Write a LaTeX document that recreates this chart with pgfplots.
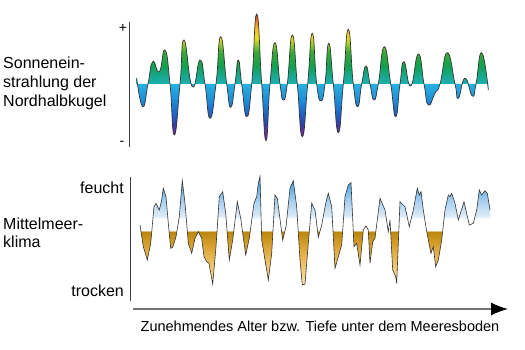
\documentclass[border=0pt]{standalone}
\usepackage{fontspec}
\setmainfont{Liberation Sans}
\usepackage{pgfplots}
\pgfplotsset{compat=1.18}
\usetikzlibrary{arrows.meta}

% insolation colours
\definecolor{nP4}{HTML}{8A2098}
\definecolor{nP3}{HTML}{6A2CA8}
\definecolor{nP2}{HTML}{3040A8}
\definecolor{nP1}{HTML}{1F68C8}
\definecolor{nM}{HTML}{1E90DA}
\definecolor{nZ}{HTML}{28B0E0}
\definecolor{pZ}{HTML}{20B0B0}
\definecolor{p1}{HTML}{18A890}
\definecolor{p2}{HTML}{12A050}
\definecolor{p3}{HTML}{3AA838}
\definecolor{p4}{HTML}{9CCB30}
\definecolor{p5}{HTML}{E8E020}
\definecolor{p6}{HTML}{F5C020}
\definecolor{p7}{HTML}{F07A20}
\definecolor{p8}{HTML}{E03020}
% climate colours
\definecolor{b4}{HTML}{FCE6B0}
\definecolor{b3}{HTML}{F8D690}
\definecolor{b2}{HTML}{EDBE5E}
\definecolor{b1}{HTML}{D9A232}
\definecolor{b0}{HTML}{B8860B}
\definecolor{u1}{HTML}{DCEBF7}
\definecolor{u2}{HTML}{A8CFEF}
\definecolor{u3}{HTML}{5CAEE6}
\definecolor{u4}{HTML}{2A94E0}
\definecolor{curve}{HTML}{333333}

\pgfdeclareverticalshading{insol}{100bp}{color(0bp)=(nP4); color(25bp)=(nP4); color(28.43bp)=(nP3); color(31.59bp)=(nP2); color(36.33bp)=(nP1); color(41.46bp)=(nM); color(47.37bp)=(nZ); color(47.40bp)=(pZ); color(50.53bp)=(p1); color(54.48bp)=(p2); color(60.0bp)=(p3); color(63.16bp)=(p4); color(65.53bp)=(p5); color(69.08bp)=(p6); color(72.24bp)=(p7); color(75bp)=(p8); color(100bp)=(p8)}

\pgfdeclareverticalshading{klima}{100bp}{color(0bp)=(b4); color(25bp)=(b4); color(29.16bp)=(b3); color(36.08bp)=(b2); color(43.0bp)=(b1); color(49.92bp)=(b0); color(49.95bp)=(white); color(55.47bp)=(white); color(56.86bp)=(u1); color(63.78bp)=(u2); color(70.71bp)=(u3); color(75bp)=(u4); color(100bp)=(u4)}

\pgfplotstableread{
x v
136.7 6
142.7 -22.7
148 0
152.7 22.3
159.3 12.3
165 34
170 0
174.3 -51
180 0
184 44
192.3 -2.7
200 24
205 0
210 -34.3
216 0
220.7 47.3
226.7 0
230.7 -23.3
235 0
238.3 24
241.7 0
246.7 -32.7
251.7 0
256.7 70
261.7 0
266 -56.7
270 0
275 41.3
280 0
283.3 -16
287.3 0
292.3 49
297.3 0
302.3 -52.7
307.7 0
312.3 50.7
316.7 0
321 -16.7
325 0
328.7 40.7
333.3 0
338.3 -48.7
343.3 0
348.3 54.7
353.3 0
357.7 -22.7
361.7 0
366 18
370 0
374 -16
378.3 0
384.3 37.3
390.7 0
395.7 -32.7
400 0
404 22.3
410.7 -2
418.3 30
424 0
428.3 -21
435 -9
440 0
447.3 31.3
455 0
458.3 -14.3
465 5.7
472.3 -12
476 0
481.7 31.3
488.3 -6
}\insoltable

\pgfplotstableread{
x v
140 6
143.3 -15.7
147.3 -29
150.7 -12.3
154 24.3
156 27.7
159.3 21
161.7 31
163.3 42.7
166 34.3
168.3 7.7
170.7 -17.3
172.7 -16.3
176 -5.7
179.3 14.3
182.3 50.3
185 27.7
188.3 -12.3
191.7 -22.3
195 -7.3
198.3 -0.7
201.7 -7.3
204 -25.7
206.7 -30.7
209 -32.3
212.7 -53
216 -15.7
219.3 34.3
222.7 39.3
225.7 17.7
229.3 -29
232.7 -9
237.3 29.3
240.7 12.7
245.7 -24
249.3 -7.3
254 27.7
256.7 34.3
258.3 47.7
260 54.3
261.7 -9
265 -29
268.3 -49
271.7 -22.3
275 36
277.3 32.7
282.7 -9
286 4.3
290 42.7
293.3 50.3
296.7 24.3
300 -29
302.3 -54
305 -53
308.3 -12.3
311.7 27.7
315 21
318.3 -6.3
321.7 6
325.7 27.7
328.3 37.7
331.7 24.3
335 -37.3
338.3 -25.7
341.7 -14
345 34.3
348.3 46
351 48.3
354 -15.7
356.7 -12.3
360 -34
363.3 1
366 5
368.3 1
370 -32.3
372.7 -10.7
375 -7.3
380 32.7
385 21
388.3 -0.7
390 11
392.7 -39
395.7 -45.7
396.7 -52.3
400 29.3
405 24.3
409.3 4.3
413.3 21
417.3 42.7
419.3 36
421 39.3
423.3 21
426.7 -0.7
431 -22.3
433.3 -15.7
435.7 -35.7
438.3 -29
441.7 -9
445 21
448.3 36
450 34.3
451.7 37.7
455 27.7
458.3 11
464 29.3
469.3 6
473.3 7.7
476.7 21
479.3 41
481.7 36
485 40.3
487.3 37.7
490 21
}\klimatable

\begin{document}
\begin{tikzpicture}[x=1pt,y=1pt]
\path[use as bounding box] (0,0) rectangle (525,350);

% top panel
\begin{axis}[at={(130pt,203pt)}, anchor=south west, scale only axis,
  width=380pt, height=125pt, xmin=130, xmax=510, ymin=-63, ymax=62,
  hide axis, clip=false]
  \addplot[draw=none, shading=insol, smooth, tension=0.9, forget plot] table[x=x,y=v]{\insoltable} \closedcycle;
  \addplot[curve, line width=0.7pt, smooth, tension=0.9, no markers] table[x=x,y=v]{\insoltable};
\end{axis}

% bottom panel
\begin{axis}[at={(130pt,49pt)}, anchor=south west, scale only axis,
  width=380pt, height=124pt, xmin=130, xmax=510, ymin=-70, ymax=54,
  hide axis, clip=false]
  \addplot[draw=none, shading=klima, forget plot] table[x=x,y=v]{\klimatable} \closedcycle;
  \addplot[curve, line width=0.6pt, no markers] table[x=x,y=v]{\klimatable};
\end{axis}

% axis lines
\draw[line width=0.9pt, black!75] (129.7,328) -- (129.7,203);
\draw[line width=0.9pt, black!75] (130.5,173) -- (130.5,49);
\draw[line width=1.3pt, black!55, -{Latex[length=17pt,width=13pt,color=black]}] (133,41) -- (508,41);

% labels
\node[font=\fontsize{16}{19}\selectfont, anchor=base west, inner sep=0] at (3,281) {Sonnenein-};
\node[font=\fontsize{16}{19}\selectfont, anchor=base west, inner sep=0] at (3,262) {strahlung der};
\node[font=\fontsize{16}{19}\selectfont, anchor=base west, inner sep=0] at (3,243) {Nordhalbkugel};
\node[font=\fontsize{16}{19}\selectfont, anchor=base west, inner sep=0] at (3,120) {Mittelmeer-};
\node[font=\fontsize{16}{19}\selectfont, anchor=base west, inner sep=0] at (3,102) {klima};
\node[font=\fontsize{16}{19}\selectfont, anchor=base east, inner sep=0] at (124,156) {feucht};
\node[font=\fontsize{16}{19}\selectfont, anchor=base east, inner sep=0] at (124,53) {trocken};
\node[font=\fontsize{14}{17}\selectfont, inner sep=0] at (123,322) {+};
\node[font=\fontsize{14}{17}\selectfont, inner sep=0] at (122,207) {-};
\node[font=\fontsize{14.5}{17}\selectfont, anchor=base, inner sep=0] at (320,18.5) {Zunehmendes Alter bzw. Tiefe unter dem Meeresboden};
\end{tikzpicture}
\end{document}
